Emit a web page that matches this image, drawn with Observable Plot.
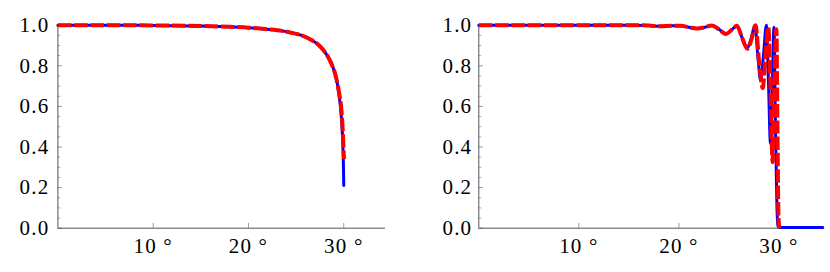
<!DOCTYPE html>
<html>
<head>
<meta charset="utf-8">
<script src="https://cdn.jsdelivr.net/npm/d3@7"></script>
<script src="https://cdn.jsdelivr.net/npm/@observablehq/plot@0.6"></script>
<style>
  html, body { margin: 0; padding: 0; background: #fff; }
  #wrap { display: flex; width: 830px; height: 272px; }
  #wrap svg text { letter-spacing: 1.2px; fill: #000; }
</style>
</head>
<body>
<div id="wrap"></div>
<script>
// ---- tick definitions ----
const xTicks = [10, 20, 30];
const yTicks = [0, 0.2, 0.4, 0.6, 0.8, 1.0];
const yMinorTicks = [0.05, 0.1, 0.15, 0.25, 0.3, 0.35, 0.45, 0.5, 0.55, 0.65, 0.7, 0.75, 0.85, 0.9, 0.95];
const xDomain = [0, 34.38];

// ---- left panel ----
const leftBlueX = [0, 5, 10, 15, 18, 20, 22, 23.5, 24.4, 25.5, 26.5, 27.3, 27.9, 28.4, 28.8, 29.1, 29.3, 29.5, 29.65, 29.8, 29.9, 29.95, 29.98, 30.0];
const leftBlueY = [1.0, 1.0, 0.999, 0.996, 0.992, 0.988, 0.98, 0.972, 0.964, 0.951, 0.93, 0.905, 0.875, 0.84, 0.80, 0.76, 0.72, 0.655, 0.60, 0.51, 0.42, 0.34, 0.27, 0.21];
const leftRedX = [0, 5, 10, 15, 18, 20, 22, 23.5, 24.4, 25.5, 26.5, 27.3, 27.9, 28.4, 28.8, 29.1, 29.3, 29.55, 29.72, 29.86, 29.95, 30.02];
const leftRedY = [1.0, 1.0, 0.999, 0.996, 0.992, 0.988, 0.98, 0.972, 0.964, 0.951, 0.93, 0.905, 0.875, 0.84, 0.80, 0.76, 0.72, 0.655, 0.60, 0.51, 0.42, 0.34];

// ---- right panel ----
const rightBlueX = [0, 5, 10, 15, 17, 18.2, 19.2, 20.2, 21, 21.8, 22.6, 23.3, 24, 24.7, 25.3, 25.8, 26.3, 26.8, 27.2, 27.6, 27.9, 28.17, 28.45, 28.74, 28.95, 29.15, 29.33, 29.5, 29.65, 29.8, 29.9, 30.1, 34.38];
const rightBlueY = [1, 1, 1, 1, 0.998, 0.995, 0.997, 0.997, 0.99, 0.984, 0.99, 0.999, 0.98, 0.957, 0.978, 0.997, 0.94, 0.886, 0.93, 1.0, 0.84, 0.727, 0.85, 1.0, 0.72, 0.417, 0.7, 0.99, 0.5, 0.1, 0.01, 0.004, 0.004];
const rightRedX = [0, 5, 10, 15, 17, 18.2, 19.2, 20.2, 21, 21.8, 22.6, 23.3, 24, 24.7, 25.3, 25.8, 26.3, 26.85, 27.25, 27.65, 28.05, 28.38, 28.65, 28.94, 29.15, 29.36, 29.52, 29.74, 29.85, 29.94, 30.02];
const rightRedY = [1, 1, 1, 1, 0.998, 0.995, 0.997, 0.997, 0.99, 0.984, 0.99, 0.999, 0.98, 0.957, 0.978, 0.997, 0.94, 0.884, 0.93, 1.0, 0.8, 0.69, 0.85, 0.99, 0.7, 0.325, 0.65, 0.98, 0.5, 0.08, 0.0];

const toRows = (xs, ys) => xs.map((x, i) => ({x, y: ys[i]}));
const serif = "Liberation Serif";

function panel({blue, red, marginLeft, marginRight, yPad}) {
  return Plot.plot({
    width: 415,
    height: 272,
    marginTop: 24.7,
    marginBottom: 44.3,
    marginLeft,
    marginRight,
    x: {domain: xDomain, label: null},
    y: {domain: [0, 1], label: null},
    style: {fontFamily: serif, fontSize: "21px", color: "#000", background: "#fff"},
    marks: [
      Plot.axisY(yTicks, {tickSize: 0, tickPadding: yPad, tickFormat: d3.format(".1f"), fontFamily: serif, fontSize: 21, label: null}),
      Plot.axisY(yTicks, {tickSize: 4.7, dx: 4.7, text: null, stroke: "#9a9a9a", label: null}),
      Plot.axisY(yMinorTicks, {tickSize: 3, dx: 3, text: null, stroke: "#b0b0b0", label: null}),
      Plot.axisX(xTicks, {tickSize: 0, tickPadding: 10, tickFormat: d => `${d} °`, fontFamily: serif, fontSize: 21, label: null}),
      Plot.axisX(xTicks, {tickSize: 4.7, dy: -4.7, text: null, stroke: "#9a9a9a", label: null}),
      Plot.ruleX([0], {stroke: "#555"}),
      Plot.ruleY([0], {stroke: "#555"}),
      Plot.line(blue, {x: "x", y: "y", stroke: "#0000ff", strokeWidth: 3, curve: "monotone-x"}),
      Plot.line(red, {x: "x", y: "y", stroke: "#ff0000", strokeWidth: 4, strokeDasharray: "13.5,2.8", strokeLinecap: "butt", curve: "monotone-x"})
    ]
  });
}

const wrap = document.getElementById("wrap");
wrap.append(panel({blue: toRows(leftBlueX, leftBlueY), red: toRows(leftRedX, leftRedY), marginLeft: 57.4, marginRight: 30, yPad: 8.5}));
wrap.append(panel({blue: toRows(rightBlueX, rightBlueY), red: toRows(rightRedX, rightRedY), marginLeft: 63.3, marginRight: 7.7, yPad: 6.5}));
</script>
</body>
</html>
